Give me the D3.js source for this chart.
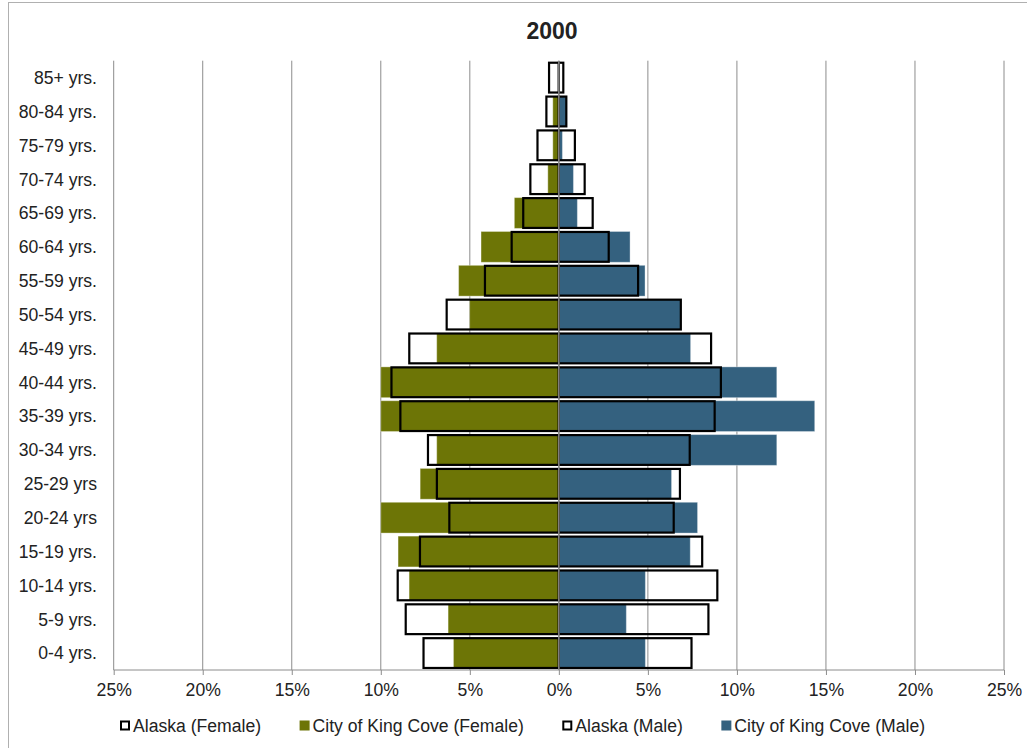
<!DOCTYPE html>
<html>
<head>
<meta charset="utf-8">
<script src="https://cdn.jsdelivr.net/npm/d3@7"></script>
<style>
  body { margin: 0; background: #fff; }
  svg text { font-family: "Liberation Sans", Arial, sans-serif; fill: #222; }
</style>
</head>
<body>
<svg id="chart" width="1027" height="748"></svg>
<script>
// age groups, top to bottom
var ages = ["85+ yrs.", "80-84 yrs.", "75-79 yrs.", "70-74 yrs.", "65-69 yrs.", "60-64 yrs.",
  "55-59 yrs.", "50-54 yrs.", "45-49 yrs.", "40-44 yrs.", "35-39 yrs.", "30-34 yrs.",
  "25-29 yrs", "20-24 yrs", "15-19 yrs.", "10-14 yrs.", "5-9 yrs.", "0-4 yrs."];

// percent of population
var alaskaFemale = [0.55, 0.7, 1.2, 1.6, 2.0, 2.65, 4.15, 6.3, 8.4, 9.4, 8.9, 7.35, 6.85, 6.15, 7.8, 9.05, 8.6, 7.6];
var kingCoveFemale = [0, 0.34, 0.34, 0.62, 2.5, 4.37, 5.63, 5.01, 6.86, 10.0, 10.0, 6.86, 7.79, 10.0, 9.03, 8.41, 6.22, 5.92];
var alaskaMale = [0.25, 0.42, 0.9, 1.45, 1.9, 2.8, 4.45, 6.85, 8.55, 9.1, 8.75, 7.35, 6.8, 6.45, 8.05, 8.9, 8.4, 7.45];
var kingCoveMale = [0, 0.45, 0.2, 0.82, 1.04, 4.0, 4.84, 6.86, 7.4, 12.24, 14.37, 12.24, 6.33, 7.79, 7.38, 4.86, 3.79, 4.86];

var xTicks = [-25, -20, -15, -10, -5, 0, 5, 10, 15, 20, 25];

var legendItems = [
  { name: "Alaska (Female)", type: "outline" },
  { name: "City of King Cove (Female)", type: "fill", color: "#6d7506" },
  { name: "Alaska (Male)", type: "outline" },
  { name: "City of King Cove (Male)", type: "fill", color: "#34617f" }
];

var olive = "#6d7506", blue = "#34617f", grid = "#8c8c8c";
var fontSize = "17.6px";

var svg = d3.select("#chart");

// chart frame
svg.append("rect")
  .attr("x", 8.5).attr("y", 2.5)
  .attr("width", 1030).attr("height", 760)
  .attr("fill", "none").attr("stroke", "#b0b0b0");

var x = d3.scaleLinear().domain([-25, 25]).range([113.7, 1004]);
var y = d3.scaleBand().domain(ages).range([60.7, 670]).paddingInner(0.09).paddingOuter(0.045);

// title
svg.append("text")
  .attr("x", 552).attr("y", 39)
  .attr("text-anchor", "middle")
  .style("font-size", "23px").style("font-weight", "bold")
  .attr("fill", "#000")
  .text("2000");

// vertical gridlines
svg.append("g").selectAll("line")
  .data(xTicks)
  .join("line")
  .attr("x1", d => x(d)).attr("x2", d => x(d))
  .attr("y1", 60.7).attr("y2", 670)
  .attr("stroke", grid).attr("stroke-width", 1);

function rows(vals) {
  return vals.map(function(v, i) { return { age: ages[i], v: v }; });
}

// King Cove filled bars
function fillBars(vals, sign, color) {
  svg.append("g").selectAll("rect")
    .data(rows(vals))
    .join("rect")
    .attr("x", d => sign < 0 ? x(-d.v) : x(0))
    .attr("width", d => Math.abs(x(d.v) - x(0)))
    .attr("y", d => y(d.age))
    .attr("height", y.bandwidth())
    .attr("fill", color)
    .attr("stroke", "#ffffff").attr("stroke-opacity", 0.35).attr("stroke-width", 1);
}
fillBars(kingCoveFemale, -1, olive);
fillBars(kingCoveMale, 1, blue);

// Alaska outline bars
function outlineBars(vals, sign) {
  svg.append("g").selectAll("rect")
    .data(rows(vals))
    .join("rect")
    .attr("x", d => sign < 0 ? x(-d.v) : x(0))
    .attr("width", d => Math.abs(x(d.v) - x(0)))
    .attr("y", d => y(d.age) + 0.5)
    .attr("height", y.bandwidth() - 1)
    .attr("fill", "none")
    .attr("stroke", "#000").attr("stroke-width", 2.2);
}
outlineBars(alaskaFemale, -1);
outlineBars(alaskaMale, 1);

// zero line on top
svg.append("line")
  .attr("x1", x(0)).attr("x2", x(0))
  .attr("y1", 60.7).attr("y2", 670)
  .attr("stroke", grid).attr("stroke-width", 1.5);

// x axis
var xAxis = d3.axisBottom(x)
  .tickValues(xTicks)
  .tickSize(5)
  .tickPadding(9)
  .tickFormat(d => Math.abs(d) + "%");

var gx = svg.append("g")
  .attr("transform", "translate(0,670)")
  .call(xAxis);
gx.select(".domain").attr("stroke", grid).attr("d", "M113.7,0H1004");
gx.selectAll(".tick line").attr("stroke", grid);
gx.selectAll(".tick text")
  .attr("fill", "#222")
  .style("font-size", fontSize)
  .style("font-family", "'Liberation Sans', Arial, sans-serif");

// y labels
svg.append("g").selectAll("text")
  .data(ages)
  .join("text")
  .attr("x", 97)
  .attr("y", d => y(d) + y.bandwidth() / 2)
  .attr("dy", "0.36em")
  .attr("text-anchor", "end")
  .style("font-size", fontSize)
  .text(d => d);

// legend
var legend = svg.append("g");
var lx = 120;
legendItems.forEach(function(item) {
  var g = legend.append("g").attr("transform", "translate(" + lx + ",0)");
  if (item.type === "outline") {
    g.append("rect")
      .attr("x", 1).attr("y", 721.5).attr("width", 8).attr("height", 8)
      .attr("fill", "#fff").attr("stroke", "#000").attr("stroke-width", 2);
  } else {
    g.append("rect")
      .attr("x", 0).attr("y", 720.5).attr("width", 10).attr("height", 10)
      .attr("fill", item.color);
  }
  var t = g.append("text")
    .attr("x", 13).attr("y", 732)
    .style("font-size", fontSize)
    .text(item.name);
  lx += 13 + t.node().getComputedTextLength() + 38.5;
});
</script>
</body>
</html>
